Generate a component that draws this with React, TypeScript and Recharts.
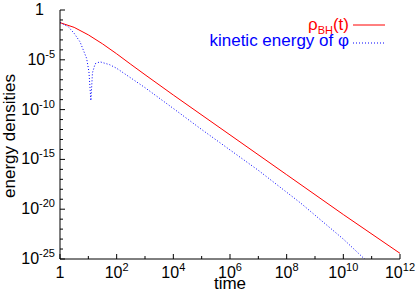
import React from 'react';
import { ComposedChart, Line, XAxis, YAxis } from 'recharts';

const redTimes = [1, 3.16, 10, 31.6, 100, 316, 1e3, 1e4, 1e6, 1e8, 1e10, 1e12];
const redValues = [5.4e-2, 1.8e-2, 3.2e-3, 4e-4, 4e-5, 3.5e-6, 3.2e-7, 2.9e-9, 2.9e-13, 2.9e-17, 2.9e-21, 3.7e-25];
const blueTimes = [1, 1.95, 3.16, 5.1, 8.7, 10.5, 12.3, 14, 17.4, 25.7, 57, 100, 1e3, 1e4, 1e5, 1e7, 3.16e8, 1e10, 5.6e10, 1e11];
const blueValues = [5.4e-2, 2.1e-2, 4.5e-3, 6.3e-4, 1.4e-5, 6.3e-7, 8e-10, 5e-7, 4e-6, 6.3e-6, 3.2e-6, 1.4e-6, 1.6e-8, 1.3e-10, 1e-12, 8e-17, 4e-20, 1e-23, 1e-25, 2.5e-26];
const xTicks = [1, 1e1, 1e2, 1e3, 1e4, 1e5, 1e6, 1e7, 1e8, 1e9, 1e10, 1e11, 1e12];
const yTicks = [1, 1e-1, 1e-2, 1e-3, 1e-4, 1e-5, 1e-6, 1e-7, 1e-8, 1e-9, 1e-10, 1e-11, 1e-12, 1e-13, 1e-14, 1e-15, 1e-16, 1e-17, 1e-18, 1e-19, 1e-20, 1e-21, 1e-22, 1e-23, 1e-24, 1e-25];
const redLabel = 'ρ';
const redSub = 'BH';
const redTail = '(t)';
const blueLabel = 'kinetic energy of φ';
const xTitle = 'time';
const yTitle = 'energy densities';

const redData = redTimes.map((t, i) => ({ t, v: redValues[i] }));
const blueData = blueTimes.map((t, i) => ({ t, v: blueValues[i] }));

const FONT = "'Liberation Sans', Arial, Helvetica, sans-serif";
const M = 4;
const exp10 = (v: number) => Math.round(Math.log10(v));

const BottomTick = (props: any) => {
  const { x, y, payload } = props;
  const e = exp10(payload.value);
  const major = e % 2 === 0;
  const ay = y - M;
  return (
    <g>
      <line x1={x} x2={x} y1={ay} y2={ay - (major ? 5 : 3)} stroke="#000" />
      {major && (
        <text x={x} y={ay + 19} textAnchor="middle" fontSize={16} fontFamily={FONT} fill="#000">
          {e === 0 ? '1' : (<>10<tspan dy={-7} fontSize={11}>{String(e)}</tspan></>)}
        </text>
      )}
    </g>
  );
};

const TopTick = (props: any) => {
  const { x, y, payload } = props;
  const e = exp10(payload.value);
  const major = e % 2 === 0;
  return <line x1={x} x2={x} y1={y} y2={y + (major ? 5 : 3)} stroke="#000" />;
};

const LeftTick = (props: any) => {
  const { x, y, payload } = props;
  const e = exp10(payload.value);
  const major = e % 5 === 0;
  const ax = x + M;
  return (
    <g>
      <line x1={ax} x2={ax + (major ? 5 : 3)} y1={y} y2={y} stroke="#000" />
      {major && (
        <text x={e === 0 ? ax - 16 : ax - 5} y={y + 5} textAnchor="end" fontSize={16} fontFamily={FONT} fill="#000">
          {e === 0 ? '1' : (<>10<tspan dy={-7} fontSize={11}>{String(e)}</tspan></>)}
        </text>
      )}
    </g>
  );
};

const RightTick = (props: any) => {
  const { x, y, payload } = props;
  const e = exp10(payload.value);
  const major = e % 5 === 0;
  return <line x1={x} x2={x - (major ? 5 : 3)} y1={y} y2={y} stroke="#000" />;
};

export default function App() {
  return (
    <div style={{ position: 'absolute', left: 0, top: 0, width: 417, height: 291, background: '#fff' }}>
      <ComposedChart width={417} height={291} margin={{ top: 10, right: 17, bottom: 10, left: 8 }}>
        <XAxis
          xAxisId="b"
          dataKey="t"
          type="number"
          scale="log"
          domain={[1, 1e12]}
          allowDataOverflow
          ticks={xTicks}
          interval={0}
          height={22}
          tickSize={0}
          tickMargin={M}
          tickLine={false}
          tick={<BottomTick />}
          axisLine={{ stroke: '#000' }}
        />
        <XAxis
          xAxisId="top"
          orientation="top"
          dataKey="t"
          type="number"
          scale="log"
          domain={[1, 1e12]}
          allowDataOverflow
          ticks={xTicks}
          interval={0}
          height={0}
          tickSize={0}
          tickMargin={0}
          tickLine={false}
          tick={<TopTick />}
          axisLine={{ stroke: '#000' }}
        />
        <YAxis
          yAxisId="l"
          type="number"
          scale="log"
          domain={[1e-25, 1]}
          allowDataOverflow
          ticks={yTicks}
          interval={0}
          width={52}
          tickSize={0}
          tickMargin={M}
          tickLine={false}
          tick={<LeftTick />}
          axisLine={{ stroke: '#000' }}
        />
        <YAxis
          yAxisId="r"
          orientation="right"
          type="number"
          scale="log"
          domain={[1e-25, 1]}
          allowDataOverflow
          ticks={yTicks}
          interval={0}
          width={0}
          tickSize={0}
          tickMargin={0}
          tickLine={false}
          tick={<RightTick />}
          axisLine={{ stroke: '#000' }}
        />
        <Line
          xAxisId="b"
          yAxisId="l"
          data={redData}
          dataKey="v"
          type="linear"
          stroke="#ff0000"
          strokeWidth={1}
          dot={false}
          isAnimationActive={false}
        />
        <Line
          xAxisId="b"
          yAxisId="l"
          data={blueData}
          dataKey="v"
          type="linear"
          stroke="#0000ff"
          strokeWidth={1}
          strokeDasharray="1 2"
          dot={false}
          isAnimationActive={false}
        />
      </ComposedChart>
      <svg width={417} height={291} style={{ position: 'absolute', left: 0, top: 0, pointerEvents: 'none' }}>
        <text x={230} y={289} textAnchor="middle" fontSize={17} fontFamily={FONT} fill="#000">{xTitle}</text>
        <text transform="rotate(-90)" x={-136} y={15} textAnchor="middle" fontSize={17} fontFamily={FONT} fill="#000">{yTitle}</text>
        <text x={349} y={30} textAnchor="end" fontSize={17} fontFamily={FONT} fill="#ff0000">
          {redLabel}<tspan dy={4} fontSize={11}>{redSub}</tspan><tspan dy={-4}>{redTail}</tspan>
        </text>
        <line x1={353} x2={385} y1={25} y2={25} stroke="#ff0000" strokeWidth={1} />
        <text x={349} y={46} textAnchor="end" fontSize={17} fontFamily={FONT} fill="#0000ff">{blueLabel}</text>
        <line x1={353} x2={385} y1={43} y2={43} stroke="#0000ff" strokeWidth={1} strokeDasharray="1 2" />
      </svg>
    </div>
  );
}
